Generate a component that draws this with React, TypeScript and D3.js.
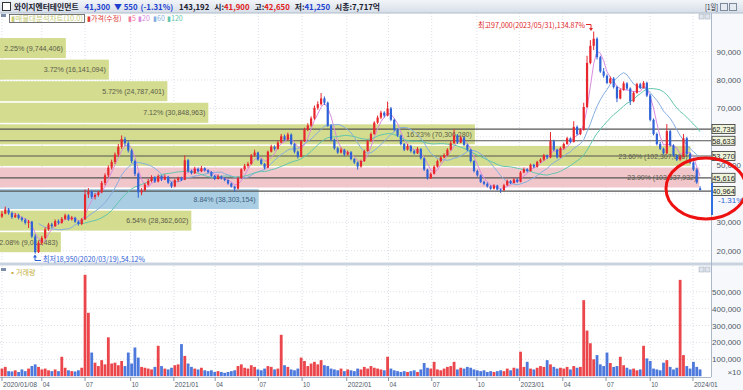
import * as d3 from "d3";

document.body.style.margin = "0";

// weekly candles, values in thousands of won, first week 2020/01/08
const opensK = [
  32.0, 33.0, 34.5, 33.2, 31.8, 32.5, 31.5, 30.8, 29.8, 30.2,
  25.0, 19.5, 22.8, 24.5, 27.5, 29.2, 28.6, 30.4, 29.8, 31.2,
  32.4, 31.0, 31.6, 30.2, 29.4, 31.0, 39.8, 40.8, 38.9, 39.6,
  40.5, 43.8, 46.5, 49.2, 51.2, 53.8, 56.5, 59.2, 57.8, 55.2,
  51.5, 47.0, 40.5, 41.2, 43.2, 44.5, 45.8, 44.3, 46.2, 45.0,
  46.0, 43.9, 42.6, 44.8, 45.5, 44.9, 51.8, 48.0, 47.2, 48.8,
  47.9, 49.0, 48.2, 47.6, 46.3, 45.2, 46.1, 45.4, 44.8, 43.6,
  42.5, 41.8, 45.5, 48.6, 49.8, 50.5, 53.5, 54.5, 52.0, 50.5,
  49.2, 54.8, 56.5, 55.8, 58.0, 60.2, 59.0, 60.8, 57.5, 54.8,
  53.0, 58.5, 62.5, 64.0, 66.5, 70.2, 71.5, 73.5, 72.0, 64.0,
  59.0, 56.0, 54.5, 55.5, 53.8, 54.6, 52.2, 51.0, 49.6, 51.5,
  55.0, 58.5, 61.0, 65.0, 66.8, 68.5, 67.5, 70.0, 66.0, 62.5,
  60.5, 57.5, 55.5, 56.8, 55.0, 54.2, 55.8, 52.5, 48.5, 45.5,
  47.0, 49.5, 51.5, 52.8, 53.6, 55.5, 57.8, 60.5, 58.0, 59.8,
  57.2, 55.5, 51.5, 48.0, 46.5, 44.2, 43.5, 42.6, 41.8, 42.9,
  41.5, 41.2, 43.0, 44.5, 43.8, 45.0, 44.2, 47.5, 48.6, 48.0,
  50.2, 49.5, 51.2, 52.0, 53.5, 52.8, 58.5, 55.5, 52.8, 56.0,
  57.5, 59.5, 58.2, 63.5, 61.0, 62.5, 70.5, 86.0, 92.0, 94.5,
  88.0, 83.0, 81.5, 79.0, 80.5, 77.5, 73.5, 76.5, 78.8, 77.0,
  72.5, 75.5, 78.5, 77.2, 79.0, 74.5, 66.0, 61.0, 57.5, 55.8,
  54.2, 62.0, 57.0, 53.5, 52.0, 53.0, 59.5, 54.0, 51.0, 48.5,
  41.9,
];
const highsK = [
  34.0, 35.5, 35.0, 33.8, 33.2, 33.0, 32.0, 31.4, 30.8, 30.5,
  25.8, 23.5, 25.2, 28.2, 29.8, 29.8, 31.0, 31.0, 31.8, 33.0,
  32.8, 32.2, 31.9, 30.6, 31.5, 41.5, 42.0, 41.2, 40.2, 41.0,
  44.5, 47.2, 50.0, 52.0, 54.5, 57.5, 60.5, 60.0, 58.5, 55.8,
  52.0, 47.5, 42.0, 43.8, 45.2, 46.5, 46.2, 46.8, 46.5, 46.8,
  46.3, 44.2, 45.2, 46.0, 46.0, 53.5, 52.2, 48.5, 49.5, 49.2,
  49.8, 49.3, 48.6, 47.9, 46.6, 46.8, 46.4, 45.8, 45.0, 43.9,
  42.8, 46.0, 49.0, 50.5, 51.2, 54.0, 55.5, 54.8, 52.4, 50.8,
  55.2, 57.2, 57.0, 58.6, 61.0, 60.8, 61.5, 61.2, 57.8, 55.2,
  59.0, 63.2, 64.8, 67.2, 71.0, 72.5, 75.4, 74.2, 72.4, 64.5,
  59.4, 56.5, 56.2, 55.8, 55.2, 55.0, 52.5, 51.4, 52.0, 55.5,
  59.0, 61.5, 65.5, 67.5, 69.2, 69.0, 72.4, 70.5, 66.4, 63.0,
  60.8, 57.8, 57.5, 57.2, 55.5, 56.4, 56.0, 52.8, 48.8, 47.5,
  50.0, 52.0, 53.2, 54.2, 56.0, 58.5, 62.7, 61.0, 60.5, 60.2,
  57.6, 55.8, 51.8, 48.5, 46.8, 44.6, 44.0, 43.0, 43.4, 43.2,
  41.8, 43.5, 45.0, 44.8, 45.5, 45.4, 48.0, 49.2, 49.0, 50.6,
  50.5, 51.6, 52.5, 54.0, 53.8, 61.7, 59.0, 55.8, 56.5, 58.0,
  60.0, 59.8, 65.5, 64.0, 63.0, 72.0, 88.5, 94.0, 97.0, 95.0,
  88.5, 84.2, 82.0, 81.2, 81.0, 78.0, 77.0, 79.5, 79.2, 77.4,
  76.0, 79.0, 79.0, 79.6, 79.4, 75.0, 66.5, 61.5, 58.2, 56.2,
  64.5, 62.5, 57.4, 53.8, 53.6, 61.0, 60.0, 54.5, 51.4, 49.0,
  42.65,
];
const lowsK = [
  31.5, 32.8, 32.6, 31.2, 31.5, 31.0, 30.2, 29.2, 28.0, 24.5,
  18.95, 19.2, 22.0, 24.0, 27.0, 28.0, 28.4, 29.2, 29.5, 30.8,
  30.5, 30.6, 29.8, 28.8, 29.0, 30.8, 38.5, 38.2, 38.0, 39.0,
  40.2, 43.0, 45.8, 48.5, 50.5, 53.0, 55.8, 56.8, 54.5, 50.8,
  46.2, 38.6, 39.5, 40.8, 42.8, 44.0, 43.8, 44.0, 44.5, 44.8,
  43.5, 42.0, 42.3, 44.2, 44.5, 44.8, 47.5, 46.8, 47.0, 47.5,
  47.6, 47.8, 47.2, 46.0, 44.8, 45.0, 45.0, 44.4, 43.2, 42.2,
  40.8, 41.5, 45.2, 48.0, 49.2, 50.2, 53.0, 51.6, 50.2, 48.6,
  49.0, 54.5, 55.2, 55.5, 57.8, 58.5, 58.8, 57.0, 54.2, 52.4,
  52.8, 58.2, 62.0, 63.5, 66.0, 69.5, 71.0, 71.2, 63.5, 58.5,
  55.5, 54.0, 54.2, 53.2, 53.5, 51.8, 50.5, 48.5, 49.2, 51.2,
  54.8, 58.2, 60.8, 64.5, 66.2, 66.8, 67.2, 65.5, 62.0, 60.0,
  57.0, 55.0, 55.2, 54.5, 53.8, 54.0, 52.0, 48.0, 45.0, 45.2,
  46.8, 49.2, 51.0, 52.5, 53.2, 55.2, 57.5, 57.5, 57.8, 56.8,
  55.0, 51.0, 47.5, 46.0, 43.8, 43.0, 42.2, 41.4, 41.5, 41.2,
  40.3, 41.0, 42.8, 43.4, 43.6, 43.8, 44.0, 47.2, 47.5, 47.8,
  49.0, 49.2, 50.8, 51.6, 52.2, 52.5, 55.0, 52.4, 52.6, 55.6,
  57.2, 57.8, 58.0, 60.5, 60.6, 62.2, 70.2, 85.5, 90.5, 87.2,
  82.5, 80.8, 78.5, 78.6, 77.0, 72.2, 73.2, 76.2, 76.5, 71.2,
  72.2, 75.2, 76.8, 77.0, 74.0, 65.5, 60.5, 57.0, 55.4, 53.8,
  54.0, 56.5, 53.0, 51.5, 51.6, 52.8, 53.5, 50.5, 48.0, 43.5,
  41.25,
];
const closesK = [
  33.0, 34.5, 33.2, 31.8, 32.5, 31.5, 30.8, 29.8, 30.2, 25.0,
  19.5, 22.8, 24.5, 27.5, 29.2, 28.6, 30.4, 29.8, 31.2, 32.4,
  31.0, 31.6, 30.2, 29.4, 31.0, 39.8, 40.8, 38.9, 39.6, 40.5,
  43.8, 46.5, 49.2, 51.2, 53.8, 56.5, 59.2, 57.8, 55.2, 51.5,
  47.0, 40.5, 41.2, 43.2, 44.5, 45.8, 44.3, 46.2, 45.0, 46.0,
  43.9, 42.6, 44.8, 45.5, 44.9, 51.8, 48.0, 47.2, 48.8, 47.9,
  49.0, 48.2, 47.6, 46.3, 45.2, 46.1, 45.4, 44.8, 43.6, 42.5,
  41.8, 45.5, 48.6, 49.8, 50.5, 53.5, 54.5, 52.0, 50.5, 49.2,
  54.8, 56.5, 55.8, 58.0, 60.2, 59.0, 60.8, 57.5, 54.8, 53.0,
  58.5, 62.5, 64.0, 66.5, 70.2, 71.5, 73.5, 72.0, 64.0, 59.0,
  56.0, 54.5, 55.5, 53.8, 54.6, 52.2, 51.0, 49.6, 51.5, 55.0,
  58.5, 61.0, 65.0, 66.8, 68.5, 67.5, 70.0, 66.0, 62.5, 60.5,
  57.5, 55.5, 56.8, 55.0, 54.2, 55.8, 52.5, 48.5, 45.5, 47.0,
  49.5, 51.5, 52.8, 53.6, 55.5, 57.8, 60.5, 58.0, 59.8, 57.2,
  55.5, 51.5, 48.0, 46.5, 44.2, 43.5, 42.6, 41.8, 42.9, 41.5,
  41.2, 43.0, 44.5, 43.8, 45.0, 44.2, 47.5, 48.6, 48.0, 50.2,
  49.5, 51.2, 52.0, 53.5, 52.8, 58.5, 55.5, 52.8, 56.0, 57.5,
  59.5, 58.2, 63.5, 61.0, 62.5, 70.5, 86.0, 92.0, 94.5, 88.0,
  83.0, 81.5, 79.0, 80.5, 77.5, 73.5, 76.5, 78.8, 77.0, 72.5,
  75.5, 78.5, 77.2, 79.0, 74.5, 66.0, 61.0, 57.5, 55.8, 54.2,
  62.0, 57.0, 53.5, 52.0, 53.0, 59.5, 54.0, 51.0, 48.5, 44.0,
  41.3,
];
// volume per week, thousands (axis units)
const volumesK = [
  45, 55, 30, 28, 35, 25, 40, 30, 45, 60,
  70, 55, 40, 45, 35, 30, 40, 30, 115, 50,
  35, 30, 28, 35, 50, 600, 375, 140, 80, 60,
  95, 70, 230, 75, 80, 65, 90, 60, 140, 75,
  170, 110, 55, 50, 45, 40, 55, 180, 60, 45,
  40, 50, 65, 70, 190, 120, 75, 55, 45, 40,
  50, 35, 30, 35, 25, 30, 25, 20, 25, 30,
  35, 60, 70, 50, 45, 65, 55, 40, 35, 45,
  60, 55, 40, 45, 245, 65, 55, 40, 35, 45,
  110, 90, 60, 75, 85, 70, 95, 65, 60, 45,
  40, 35, 45, 30, 40, 35, 30, 45, 40, 55,
  45, 60, 50, 45, 40, 35, 115, 45, 35, 30,
  25, 30, 25, 30, 35, 25, 40, 78, 50, 45,
  85, 40, 35, 45, 55, 60, 85, 40, 50, 45,
  55, 50, 40, 35, 30, 35, 25, 30, 25, 30,
  35, 30, 45, 35, 50, 45, 145, 55, 85, 45,
  40, 50, 60, 55, 95, 70, 55, 45, 50, 45,
  55, 40, 60, 50, 55, 450, 270, 195, 100, 125,
  70, 60, 140, 78, 55, 60, 115, 65, 50, 40,
  45, 35, 40, 180, 105, 90, 45, 40, 35, 80,
  95, 55, 40, 50, 570, 125, 60, 45, 85, 55,
  40,
];

// 매물대 (volume profile), top band first
const profilePct = [2.25, 3.72, 5.72, 7.12, 16.23, 23.6, 23.9, 8.84, 6.54, 2.08];
const profileVol = [
  "9,744,406", "16,141,094", "24,787,401", "30,848,963", "70,306,280",
  "102,307,086", "103,537,932", "38,303,154", "28,362,602", "9,010,483",
];
const PROFILE_TOP = 95000;
const PROFILE_BOTTOM = 19200;

const levelPrices = [62735, 58633, 53270, 45616, 40964];
const priceTicks = [20000, 30000, 40000, 50000, 60000, 70000, 80000, 90000];
const volumeTicks = [100000, 200000, 300000, 400000, 500000];
const dateTicks: [string, string][] = [
  ["2020-01-08", "2020/01/08"], ["2020-04-01", "04"], ["2020-07-01", "07"], ["2020-10-05", "10"],
  ["2021-01-04", "2021/01"], ["2021-04-01", "04"], ["2021-07-01", "07"], ["2021-10-01", "10"],
  ["2022-01-03", "2022/01"], ["2022-04-01", "04"], ["2022-07-01", "07"], ["2022-10-04", "10"],
  ["2023-01-02", "2023/01"], ["2023-04-03", "04"], ["2023-07-03", "07"], ["2023-10-04", "10"],
  ["2024-01-02", "2024/01"],
];
const maLines = [
  { label: "5", color: "#f27aa0", weeks: 0 },
  { label: "20", color: "#d98ae0", weeks: 4 },
  { label: "60", color: "#86aee0", weeks: 12 },
  { label: "120", color: "#62c6ae", weeks: 24 },
];

const W = 743;
const H = 390;
const PR = 711;
const UP = "#e8262b";
const DOWN = "#2f62d6";
const HBLUE = "#1d3fcf";
const HRED = "#e02020";
const FONT = "'Liberation Sans', Arial, sans-serif";
const KFONT = "'Noto Sans CJK KR', 'Noto Sans', sans-serif";

const x = d3.scaleTime().domain([new Date(2020, 0, 6), new Date(2024, 1, 9)]).range([1, PR]);
const y = d3.scaleLinear().domain([20000, 90000]).range([250.7, 51.5]);
const yv = d3.scaleLinear().domain([0, 500000]).range([376.2, 291.7]);
const bw = d3.scaleLinear().domain([0, 24.3]).range([0, PR]);

const parse = d3.timeParse("%Y-%m-%d");
const fmt = d3.format(",");

const candles = closesK.map((c, i) => ({
  date: d3.timeDay.offset(new Date(2020, 0, 8), 7 * i),
  o: opensK[i] * 1000,
  h: highsK[i] * 1000,
  l: lowsK[i] * 1000,
  c: c * 1000,
  v: volumesK[i] * 1000,
}));

function movingAvg(n: number) {
  return candles.map((_, i) =>
    i < n - 1 ? null : d3.mean(candles.slice(i - n + 1, i + 1), (d) => d.c)!
  );
}

export default function App() {
  const step = (PROFILE_TOP - PROFILE_BOTTOM) / profilePct.length;
  const maxIdx = profilePct.indexOf(d3.max(profilePct)!);
  const lastClose = candles[candles.length - 1].c;
  const curIdx = Math.floor((PROFILE_TOP - lastClose) / step);

  const maPaths = maLines
    .filter((m) => m.weeks > 1)
    .map((m) => {
      const vals = movingAvg(m.weeks);
      const line = d3
        .line<number | null>()
        .defined((d) => d != null)
        .x((_, i) => x(candles[i].date))
        .y((d) => y(d as number));
      return { ...m, d: line(vals) || "" };
    });

  // axis labels hidden behind the level boxes
  const shownPriceTicks = priceTicks.filter((p) => levelPrices.every((l) => Math.abs(y(p) - y(l)) > 8.5));

  return (
    <svg width={W} height={H} style={{ display: "block", background: "#fff" }}>
      <defs>
        <linearGradient id="hdr" x1="0" y1="0" x2="0" y2="1">
          <stop offset="0" stopColor="#f2f5f9" />
          <stop offset="1" stopColor="#d6dee8" />
        </linearGradient>
        <clipPath id="plot">
          <rect x={0} y={13} width={PR} height={250} />
        </clipPath>
      </defs>

      {/* right axis area */}
      <rect x={PR} y={13} width={W - PR} height={H - 13} fill="#f6f8fb" />

      {/* grid */}
      {priceTicks.map((p) => (
        <line key={p} x1={0} x2={PR} y1={y(p)} y2={y(p)} stroke="#d9e0e8" strokeDasharray="1,2" />
      ))}
      {volumeTicks.map((v) => (
        <line key={v} x1={0} x2={PR} y1={yv(v)} y2={yv(v)} stroke="#d9e0e8" strokeDasharray="1,2" />
      ))}
      {dateTicks.map(([d]) => (
        <g key={d}>
          <line x1={x(parse(d)!)} x2={x(parse(d)!)} y1={13} y2={262} stroke="#d9e0e8" strokeDasharray="1,2" />
          <line x1={x(parse(d)!)} x2={x(parse(d)!)} y1={266} y2={377} stroke="#d9e0e8" strokeDasharray="1,2" />
        </g>
      ))}

      {/* volume profile bands */}
      {profilePct.map((pct, i) => {
        const top = y(PROFILE_TOP - i * step) + 0.8;
        const bot = y(PROFILE_TOP - (i + 1) * step) - 0.8;
        const fill = i === maxIdx ? "#f1c6cb" : i === curIdx ? "#a9cde3" : "#d3dc8f";
        const label = `${pct.toFixed(2)}% (${profileVol[i]})`;
        return (
          <g key={i}>
            <rect x={0} y={top} width={bw(pct)} height={bot - top} fill={fill} />
            <text
              x={bw(pct) - 3}
              y={(top + bot) / 2 + 2.6}
              textAnchor="end"
              fontSize={7.4}
              fontFamily={FONT}
              fill={i === curIdx ? "#3d5f80" : "#5b5b4a"}
              textLength={label.length * 3.45}
              lengthAdjust="spacingAndGlyphs"
            >
              {label}
            </text>
          </g>
        );
      })}

      {/* level lines */}
      {levelPrices.map((p) => (
        <line key={p} x1={0} x2={PR} y1={y(p)} y2={y(p)} stroke="#555" strokeWidth={1.2} />
      ))}

      {/* moving averages and candles */}
      <g clipPath="url(#plot)">
        {maPaths.map((m) => (
          <path key={m.label} d={m.d} fill="none" stroke={m.color} strokeWidth={1} />
        ))}
        {candles.map((k, i) => {
          const cx = x(k.date);
          const col = k.c >= k.o ? UP : DOWN;
          const t = y(Math.max(k.o, k.c));
          const b = y(Math.min(k.o, k.c));
          return (
            <g key={i}>
              <line x1={cx} x2={cx} y1={y(k.h)} y2={y(k.l)} stroke={col} strokeWidth={1} />
              <rect x={cx - 1.1} y={t} width={2.2} height={Math.max(1, b - t)} fill={col} />
            </g>
          );
        })}
      </g>

      {/* volume bars */}
      {candles.map((k, i) => (
        <rect
          key={i}
          x={x(k.date) - 1.4}
          y={yv(k.v)}
          width={2.8}
          height={yv(0) - yv(k.v)}
          fill={k.c >= k.o ? UP : DOWN}
          opacity={0.85}
        />
      ))}

      {/* panel separators and axes */}
      <rect x={0} y={262.5} width={W} height={3} fill="#c9d3df" />
      <line x1={PR + 0.5} x2={PR + 0.5} y1={13} y2={377} stroke="#a9b7c9" />
      <line x1={0} x2={PR} y1={377.5} y2={377.5} stroke="#a9b7c9" />

      {shownPriceTicks.map((p) => (
        <text key={p} x={741} y={y(p) + 3} textAnchor="end" fontSize={8} fontFamily={FONT} fill="#4d5866">
          {fmt(p)}
        </text>
      ))}
      {volumeTicks.map((v) => (
        <text key={v} x={741} y={yv(v) + 3} textAnchor="end" fontSize={8} fontFamily={FONT} fill="#4d5866">
          {fmt(v)}
        </text>
      ))}
      <text x={741} y={375} textAnchor="end" fontSize={8} fontFamily={FONT} fill="#4d5866">
        ×10
      </text>

      {dateTicks.map(([d, lab]) => (
        <g key={d}>
          <line x1={x(parse(d)!)} x2={x(parse(d)!)} y1={377} y2={381} stroke="#8896a8" />
          <text
            x={x(parse(d)!) + 1}
            y={387}
            fontSize={7.6}
            fontFamily={FONT}
            fill="#4d5866"
            textLength={lab.length * 3.4}
            lengthAdjust="spacingAndGlyphs"
          >
            {lab}
          </text>
        </g>
      ))}

      {/* level boxes on the axis */}
      {levelPrices.map((p) => (
        <g key={p}>
          <rect x={712} y={y(p) - 4.5} width={23} height={9} fill="#eef3da" stroke="#333" strokeWidth={0.8} />
          <text x={723.5} y={y(p) + 2.8} textAnchor="middle" fontSize={7.4} fontFamily={FONT} fill="#222">
            {fmt(p)}
          </text>
        </g>
      ))}
      <rect x={711} y={183} width={2} height={32} fill="#2f6fe0" />
      <text x={718} y={203} fontSize={8} fontFamily={FONT} fill="#2f62d6">
        -1.31%
      </text>

      {/* high / low annotations */}
      <text x={478} y={28} fontSize={7.6} fontFamily={KFONT} fill="#e02828" textLength={107} lengthAdjust="spacingAndGlyphs">
        최고97,000(2023/05/31),134.87%
      </text>
      <path d="M586,24.5H591V29" fill="none" stroke="#e02828" strokeWidth={1} />
      <path d="M589,28L591,31L593,28Z" fill="#e02828" />
      <path d="M35,255.5V260.5H41" fill="none" stroke="#2f62d6" strokeWidth={1} />
      <path d="M33,257.5L35,254.5L37,257.5Z" fill="#2f62d6" />
      <text x={43} y={262} fontSize={7.6} fontFamily={KFONT} fill="#2f62d6" textLength={102} lengthAdjust="spacingAndGlyphs">
        최저18,950(2020/03/19),54.12%
      </text>

      {/* red circle */}
      <ellipse cx={706} cy={188.5} rx={40} ry={30.5} fill="none" stroke="#ee1111" strokeWidth={3} />

      {/* header */}
      <rect x={0} y={0} width={W} height={13} fill="url(#hdr)" />
      <line x1={0} x2={W} y1={13} y2={13} stroke="#aebccc" />
      <rect x={2.5} y={2.5} width={8} height={8} fill="#fff" stroke="#333" />
      <text x={14} y={10} fontFamily={KFONT} fontSize={7.8} fontWeight="bold" fill="#1a1a2e">
        와이지엔터테인먼트
        <tspan dx={6} fill={HBLUE}>41,300</tspan>
        <tspan dx={4} fill={HBLUE}>▼ 550</tspan>
        <tspan dx={3} fill={HBLUE}>(-1.31%)</tspan>
        <tspan dx={6}>143,192</tspan>
        <tspan dx={5}>시:</tspan>
        <tspan fill={HRED}>41,900</tspan>
        <tspan dx={5}>고:</tspan>
        <tspan fill={HRED}>42,650</tspan>
        <tspan dx={5}>저:</tspan>
        <tspan fill={HBLUE}>41,250</tspan>
        <tspan dx={5}>시총:7,717억</tspan>
      </text>
      <text x={705} y={10} fontFamily={KFONT} fontSize={7.6} fill="#1a1a2e" textLength={13} lengthAdjust="spacingAndGlyphs">
        [1일]
      </text>
      <rect x={720.5} y={3.5} width={7} height={7} fill="#e6ebf1" stroke="#7d8a9b" />
      <rect x={729.5} y={3.5} width={7} height={7} fill="#e6ebf1" stroke="#7d8a9b" />

      {/* legends */}
      <rect x={1} y={14} width={5} height={3} fill="#7d8fa8" />
      <rect x={9.5} y={14.5} width={75} height={8} fill="#fff" stroke="#555" strokeWidth={0.8} />
      <g fontFamily={KFONT} fontSize={7}>
        <text x={11} y={21} fill="#c6cc7a" textLength={72} lengthAdjust="spacingAndGlyphs">
          ▮매물대분석차트(10.0)
        </text>
        <text x={87} y={21} fill="#e03a3a">▮가격(수정)</text>
        {maLines.map((m, i) => (
          <text key={m.label} x={[128, 138, 153, 167][i]} y={21} fill={m.color}>
            ▮{m.label}
          </text>
        ))}
        <text x={9} y={275} fill="#c2ad3a">▪거래량</text>
      </g>
      <rect x={1} y={268} width={5} height={3} fill="#7d8fa8" />
      <rect x={699} y={14} width={5} height={5} fill="#dfe5ec" stroke="#9aa6b6" strokeWidth={0.5} />
      <rect x={705} y={14} width={5} height={5} fill="#dfe5ec" stroke="#9aa6b6" strokeWidth={0.5} />
      <rect x={699} y={267} width={5} height={5} fill="#dfe5ec" stroke="#9aa6b6" strokeWidth={0.5} />
      <rect x={705} y={267} width={5} height={5} fill="#dfe5ec" stroke="#9aa6b6" strokeWidth={0.5} />
    </svg>
  );
}
